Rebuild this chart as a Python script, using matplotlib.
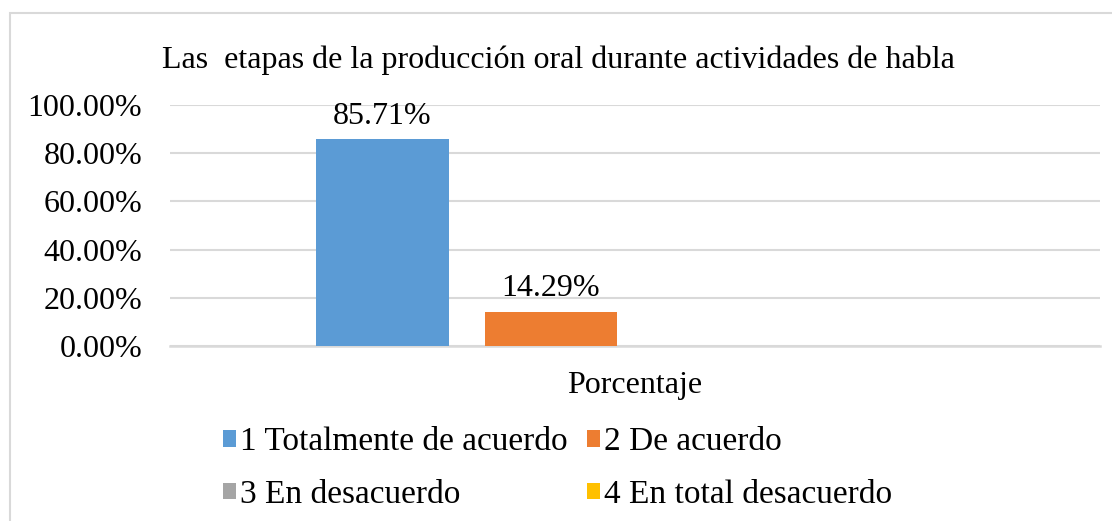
import matplotlib.pyplot as plt
from matplotlib.patches import Rectangle

categories = ["1 Totalmente de acuerdo", "2 De acuerdo",
              "3 En desacuerdo", "4 En total desacuerdo"]
values = [85.71, 14.29, 0.0, 0.0]
colors = ["#5b9bd5", "#ed7d31", "#a5a5a5", "#ffc000"]
yticks = [0, 20, 40, 60, 80, 100]
group_label = "Porcentaje"
title = "Las  etapas de la producción oral durante actividades de habla"

plt.rcParams["font.family"] = ["Liberation Serif", "DejaVu Serif"]
FS = 23

fig = plt.figure(figsize=(11.12, 5.21), dpi=100)
# chart frame (its right and bottom edges fall outside the picture)
fig.patches.append(Rectangle((10 / 1112, -0.05), 1.05, 1 - 13 / 521 + 0.05,
                             transform=fig.transFigure, fill=False,
                             edgecolor="#d9d9d9", linewidth=1.5))

ax = fig.add_axes([170 / 1112, 1 - 346 / 521, 930 / 1112, 241 / 521])

step = 0.181
width = 0.142
bars = []
for i, (cat, val, col) in enumerate(zip(categories, values, colors)):
    b = ax.bar((i - 1.5) * step, val, width=width, color=col, label=cat, zorder=3)
    ax.bar_label(b, labels=[f"{val:.2f}%" if val > 0 else ""],
                 padding=6, fontsize=FS)
    bars.append(b)

ax.set_xlim(-0.5, 0.5)
ax.set_ylim(0, 100)
ax.set_yticks(yticks)
ax.set_yticklabels([f"{v:.2f}%" for v in yticks], fontsize=FS)
ax.set_xticks([0])
ax.set_xticklabels([group_label], fontsize=FS)
ax.tick_params(axis="both", length=0)
ax.tick_params(axis="x", pad=18)
ax.tick_params(axis="y", pad=20)
ax.grid(axis="y", color="#d9d9d9", linewidth=1.5, zorder=0)
for s in ["top", "right", "left"]:
    ax.spines[s].set_visible(False)
ax.spines["bottom"].set_color("#d9d9d9")
ax.spines["bottom"].set_linewidth(1.8)

fig.text(558 / 1112, 1 - 60 / 521, title, ha="center", va="center", fontsize=FS)

order = [0, 2, 1, 3]
fig.legend([bars[i] for i in order], [categories[i] for i in order],
           ncol=2, loc="upper left", bbox_to_anchor=(223 / 1112, 1 - 427 / 521),
           frameon=False, fontsize=24, handlelength=0.38, handleheight=0.38,
           handletextpad=0.12, columnspacing=0.6, labelspacing=0.65,
           borderaxespad=0, borderpad=0)

fig.savefig("out.png", dpi=100)
